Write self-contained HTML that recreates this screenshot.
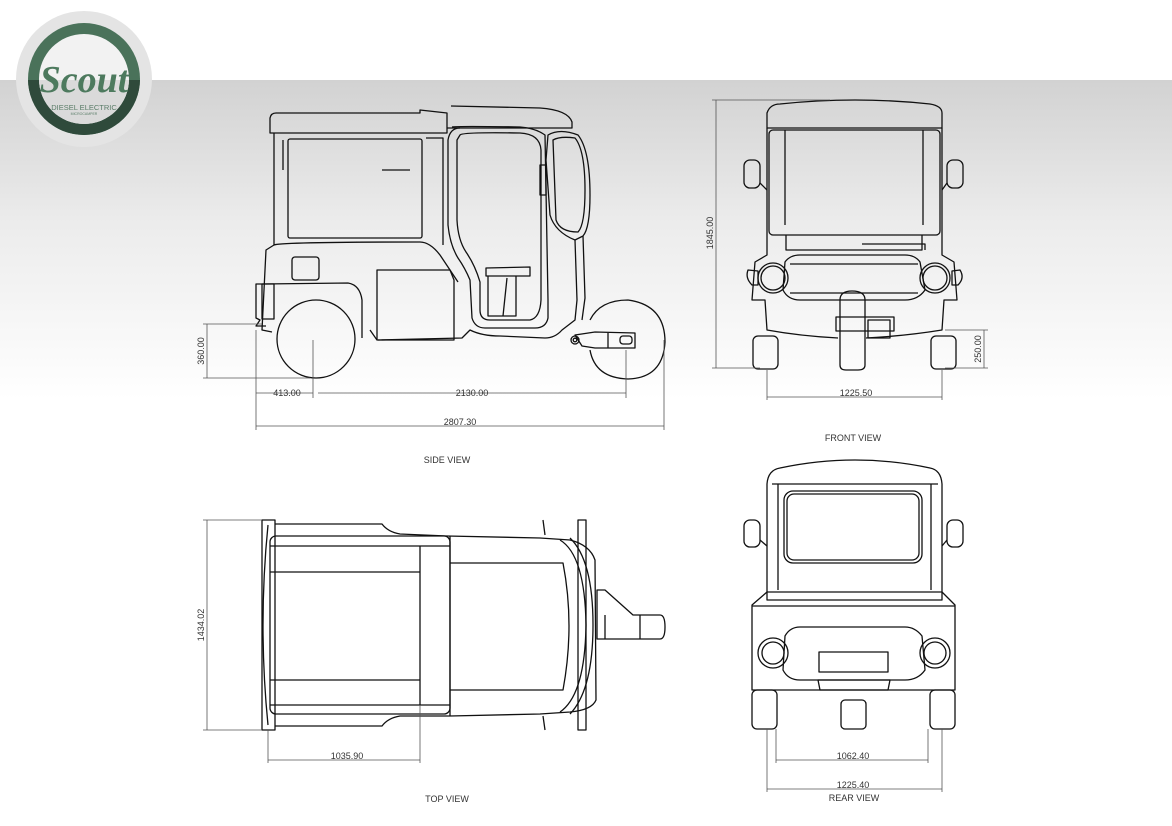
<!DOCTYPE html>
<html><head><meta charset="utf-8"><style>
html,body{margin:0;padding:0;width:1172px;height:826px;overflow:hidden;background:#fff}
svg{display:block}
text{font-family:"Liberation Sans",sans-serif;fill:#333}
</style></head><body>
<svg width="1172" height="826" viewBox="0 0 1172 826" xmlns="http://www.w3.org/2000/svg">
<defs>
<linearGradient id="bg" x1="0" y1="0" x2="0" y2="1">
<stop offset="0" stop-color="#d2d2d2"/><stop offset="0.45" stop-color="#ececec"/><stop offset="1" stop-color="#ffffff"/>
</linearGradient>
<clipPath id="lower"><rect x="0" y="80" width="200" height="100"/></clipPath>
</defs>
<rect x="0" y="80" width="1172" height="320" fill="url(#bg)"/>

<!-- logo -->
<circle cx="84" cy="79" r="68" fill="#e4e4e4"/>
<circle cx="84" cy="79" r="56" fill="#4a725a"/>
<circle cx="84" cy="79" r="56" fill="#2f4a3b" clip-path="url(#lower)"/>
<circle cx="84" cy="79" r="45" fill="#f2f2f2"/>
<circle cx="84" cy="79" r="45" fill="#dadada" clip-path="url(#lower)"/>
<text x="84" y="92" text-anchor="middle" font-style="italic" font-weight="bold" font-size="38" style="fill:#4d7a5e;font-family:'Liberation Serif',serif">Scout</text>
<text x="84" y="110" text-anchor="middle" font-size="7.5" style="fill:#5a7d68">DIESEL ELECTRIC</text>
<text x="84" y="115" text-anchor="middle" font-size="3.5" style="fill:#5a7d68">MICROCAMPER</text>

<g fill="none" stroke="#111" stroke-width="1.3" stroke-linejoin="round">
<!-- SIDE VIEW -->
<path d="M270 133 L270 118 Q271 113 276 113 L420 113 L420 110 L447 113 L447 133 Z"/>
<path d="M451 106 L540 108 Q568 110 572 122 L572 128 L447 128"/>
<path d="M274 133 L274 245 L266 250 L262 330 L272 332"/>
<rect x="288" y="139" width="134" height="99" rx="2"/>
<path d="M283 140 L283 170" />
<line x1="382" y1="170" x2="410" y2="170"/>
<path d="M426 138 L443 138 L443 245"/>
<path d="M274 245 Q280 242 420 242 Q430 242 440 255 L458 282"/>
<path d="M262 284 L348 283 Q360 285 362 300 L362 338"/>
<rect x="292" y="257" width="27" height="23" rx="3"/>
<path d="M377 270 L450 270 L454 280 L454 340 L377 340 Z"/>
<path d="M370 330 L377 340"/>
<path d="M452 127 Q458 126 520 127 Q535 128 545 135 L548 300 L548 318 Q546 328 535 328 L485 328 Q475 328 472 318 L470 280 Q465 268 458 258 Q450 245 448 225 L448 140 Q450 128 460 128"/>
<path d="M460 135 Q462 132 520 133 Q540 134 541 150 L541 300 Q540 318 530 320 L490 320 Q480 320 480 310 L480 282 Q475 265 466 252 Q458 240 457 220 L457 140 Z"/>
<path d="M486 268 L530 267 L530 276 L486 276 Z"/>
<path d="M488 276 L488 316 L516 316 L516 276"/>
<path d="M507 278 L503 316"/>
<path d="M548 135 Q560 128 578 135 Q590 150 590 195 Q590 228 583 236 L575 240 Q555 232 550 215 L546 160 Z"/>
<path d="M553 140 Q560 136 575 138 Q585 150 585 190 Q585 225 578 232 Q560 232 556 220 Z"/>
<path d="M575 240 L577 300 L575 320 L562 330 Q555 338 545 338 L500 336 Q482 336 470 330 L462 338 L378 340"/>
<path d="M583 236 L585 298 L582 320"/>
<rect x="540" y="165" width="6" height="30"/>
<path d="M262 284 L256 284 L256 318 L260 320 L256 326 L266 326"/>
<rect x="262" y="284" width="12" height="35"/>
<circle cx="316" cy="339" r="39"/>
<path d="M590 320 Q600 300 628 300 Q665 305 665 342 Q663 378 628 379 Q595 378 590 350"/>
<path d="M575 335 L595 332 L635 333 L635 348 L595 348 L582 346 Z"/>
<circle cx="575" cy="340" r="4"/><circle cx="575" cy="340" r="1.8"/>
<rect x="620" y="336" width="12" height="8" rx="3"/>
<line x1="608" y1="333" x2="608" y2="348"/>

<!-- FRONT VIEW -->
<path d="M767 113 Q770 104 780 104 Q855 96 930 104 Q942 106 942 113 L942 128 L767 128 Z"/>
<path d="M767 128 L767 255 L755 262 L752 300 L765 300 L767 330 Q800 336 838 338 M942 128 L942 255 L954 262 L957 300 L944 300 L942 330 Q905 336 866 338"/>
<rect x="769" y="130" width="171" height="105" rx="4"/>
<line x1="785" y1="130" x2="785" y2="225"/><line x1="923" y1="130" x2="923" y2="225"/>
<path d="M786 235 L786 250 L922 250 L922 235"/>
<path d="M862 244 L925 244 L925 250"/>
<path d="M785 262 Q790 255 800 255 L905 255 Q915 255 920 262 L925 290 Q918 300 905 300 L800 300 Q788 300 783 290 Z"/>
<path d="M790 264 L918 264 M790 293 L918 293"/>
<circle cx="773" cy="278" r="15"/><circle cx="773" cy="278" r="12"/>
<circle cx="935" cy="278" r="15"/><circle cx="935" cy="278" r="12"/>
<path d="M748 270 Q745 278 752 285 L758 285 L758 271 Z"/>
<path d="M960 270 Q965 278 958 285 L952 285 L952 271 Z"/>
<rect x="744" y="160" width="16" height="28" rx="6"/>
<rect x="947" y="160" width="16" height="28" rx="6"/>
<path d="M760 183 L767 190 M947 183 L942 190"/>
<rect x="753" y="336" width="25" height="33" rx="5"/>
<rect x="931" y="336" width="25" height="33" rx="5"/>
<path d="M840 300 Q840 291 852 291 Q865 291 865 300 L865 365 Q865 370 858 370 L846 370 Q840 370 840 365 Z"/>
<rect x="836" y="317" width="58" height="14"/>
<rect x="868" y="320" width="22" height="18"/>

<!-- TOP VIEW -->
<path d="M262 520 L275 520 L275 730 L262 730 Z"/>
<path d="M268 525 Q258 625 268 725"/>
<path d="M275 524 L382 524 Q388 532 400 534 L447 536 L540 538 L570 540 Q590 545 595 560 L596 700 Q592 710 570 712 L540 714 L450 716 L400 716 Q388 718 382 726 L275 726"/>
<rect x="270" y="536" width="180" height="178" rx="6"/>
<path d="M270 546 L450 546 M270 572 L420 572 M270 680 L420 680 M270 705 L450 705"/>
<line x1="420" y1="546" x2="420" y2="705"/>
<line x1="450" y1="536" x2="450" y2="716"/>
<path d="M450 563 L563 563 Q575 625 563 690 L450 690"/>
<path d="M560 540 Q585 555 586 625 Q585 695 560 712"/>
<path d="M570 538 Q593 560 593 625 Q593 690 570 714"/>
<rect x="578" y="520" width="8" height="210"/>
<path d="M543 520 L545 535 M543 716 L545 730"/>
<path d="M597 590 L605 590 L633 615 L660 615 Q665 615 665 627 Q665 639 660 639 L605 639 L597 639 Z"/>
<line x1="605" y1="615" x2="605" y2="639"/><line x1="640" y1="615" x2="640" y2="639"/>

<!-- REAR VIEW -->
<path d="M767 484 Q768 470 780 468 Q855 452 930 468 Q941 470 942 484 L942 600 L767 600 Z"/>
<line x1="772" y1="484" x2="938" y2="484"/>
<line x1="778" y1="484" x2="778" y2="590"/><line x1="931" y1="484" x2="931" y2="590"/>
<rect x="784" y="491" width="138" height="72" rx="9"/>
<rect x="787" y="494" width="132" height="66" rx="7"/>
<path d="M767 592 L752 605 L752 690 L955 690 L955 605 L942 592 Z"/>
<line x1="752" y1="606" x2="955" y2="606"/>
<path d="M785 636 Q790 627 800 627 L905 627 Q915 627 922 636 L925 670 Q918 680 905 680 L800 680 Q788 680 783 670 Z"/>
<circle cx="773" cy="653" r="15"/><circle cx="773" cy="653" r="11"/>
<circle cx="935" cy="653" r="15"/><circle cx="935" cy="653" r="11"/>
<rect x="819" y="652" width="69" height="20"/>
<rect x="744" y="520" width="16" height="27" rx="6"/>
<rect x="947" y="520" width="16" height="27" rx="6"/>
<path d="M760 540 L767 546 M947 540 L942 546"/>
<rect x="752" y="690" width="25" height="39" rx="5"/>
<rect x="930" y="690" width="25" height="39" rx="5"/>
<rect x="841" y="700" width="25" height="29" rx="4"/>
<path d="M818 680 L890 680 L888 690 L820 690 Z"/>
</g>

<!-- dimension lines -->
<g stroke="#555" stroke-width="0.8" fill="none">
<line x1="256" y1="330" x2="256" y2="430"/><line x1="313" y1="340" x2="313" y2="398"/><line x1="626" y1="350" x2="626" y2="398"/><line x1="664" y1="340" x2="664" y2="430"/>
<line x1="256" y1="393" x2="313" y2="393"/><line x1="318" y1="393" x2="626" y2="393"/>
<line x1="256" y1="426" x2="664" y2="426"/>
<line x1="207" y1="324" x2="207" y2="378"/><line x1="203" y1="324" x2="262" y2="324"/><line x1="203" y1="378" x2="310" y2="378"/>
<line x1="716" y1="100" x2="716" y2="368"/><line x1="712" y1="100" x2="830" y2="100"/><line x1="712" y1="368" x2="760" y2="368"/>
<line x1="984" y1="330" x2="984" y2="368"/><line x1="945" y1="330" x2="988" y2="330"/><line x1="945" y1="368" x2="988" y2="368"/>
<line x1="767" y1="370" x2="767" y2="400"/><line x1="942" y1="370" x2="942" y2="400"/><line x1="767" y1="397" x2="942" y2="397"/>
<line x1="207" y1="520" x2="207" y2="730"/><line x1="203" y1="520" x2="262" y2="520"/><line x1="203" y1="730" x2="262" y2="730"/>
<line x1="268" y1="730" x2="268" y2="763"/><line x1="420" y1="705" x2="420" y2="763"/><line x1="268" y1="760" x2="420" y2="760"/>
<line x1="776" y1="729" x2="776" y2="763"/><line x1="928" y1="729" x2="928" y2="763"/><line x1="776" y1="760" x2="928" y2="760"/>
<line x1="767" y1="729" x2="767" y2="792"/><line x1="942" y1="729" x2="942" y2="792"/><line x1="767" y1="789" x2="942" y2="789"/>
</g>
<g font-size="9">
<text x="287" y="396" text-anchor="middle">413.00</text>
<text x="472" y="396" text-anchor="middle">2130.00</text>
<text x="460" y="425" text-anchor="middle">2807.30</text>
<text x="204" y="351" text-anchor="middle" transform="rotate(-90 204 351)">360.00</text>
<text x="447" y="463" text-anchor="middle">SIDE VIEW</text>
<text x="713" y="233" text-anchor="middle" transform="rotate(-90 713 233)">1845.00</text>
<text x="981" y="349" text-anchor="middle" transform="rotate(-90 981 349)">250.00</text>
<text x="856" y="396" text-anchor="middle">1225.50</text>
<text x="853" y="441" text-anchor="middle">FRONT VIEW</text>
<text x="204" y="625" text-anchor="middle" transform="rotate(-90 204 625)">1434.02</text>
<text x="347" y="759" text-anchor="middle">1035.90</text>
<text x="447" y="802" text-anchor="middle">TOP VIEW</text>
<text x="853" y="759" text-anchor="middle">1062.40</text>
<text x="853" y="788" text-anchor="middle">1225.40</text>
<text x="854" y="801" text-anchor="middle">REAR VIEW</text>
</g>
</svg>
</body></html>
